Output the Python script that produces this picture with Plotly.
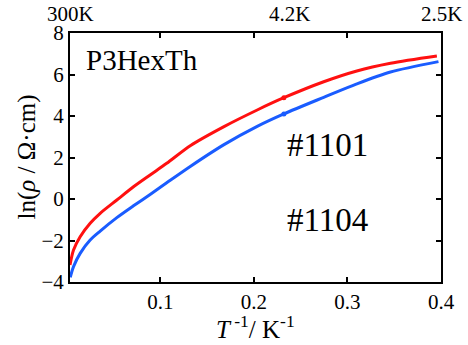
import plotly.graph_objects as go

# Sample #1101 (red)
t_red = [0.00333, 0.0071, 0.0142, 0.0249, 0.0356, 0.0534, 0.0712, 0.089, 0.1067,
         0.1323, 0.168, 0.2035, 0.232, 0.2746, 0.310, 0.346, 0.3956]
ln_red = [-3.18, -2.46, -1.82, -1.17, -0.69, -0.05, 0.59, 1.16, 1.72,
          2.58, 3.49, 4.29, 4.88, 5.65, 6.17, 6.54, 6.89]

# Sample #1104 (blue)
t_blue = [0.0036, 0.0071, 0.0142, 0.0249, 0.0356, 0.0534, 0.0712, 0.089, 0.1067,
          0.1323, 0.168, 0.2035, 0.232, 0.2746, 0.310, 0.346, 0.3973]
ln_blue = [-3.77, -3.26, -2.62, -1.98, -1.55, -0.90, -0.33, 0.22, 0.78,
           1.58, 2.62, 3.50, 4.10, 4.90, 5.55, 6.12, 6.62]

# Top temperature markers
temp_labels = ["300K", "4.2K", "2.5K"]
temp_values = [300.0, 4.2, 2.5]
temp_inv = [1.0 / t for t in temp_values]

# Points at 4.2 K on each curve
dot_x = [0.232, 0.232]
dot_y = [4.88, 4.10]

x_ticks = [0.1, 0.2, 0.3, 0.4]
y_ticks = [-4, -2, 0, 2, 4, 6, 8]

FONT = "Liberation Serif"
RED = "#ff1010"
BLUE = "#1a5cff"

fig = go.Figure()
fig.add_trace(go.Scatter(x=t_red, y=ln_red, mode="lines",
                         line=dict(color=RED, width=3, shape="spline", smoothing=0.8),
                         showlegend=False))
fig.add_trace(go.Scatter(x=t_blue, y=ln_blue, mode="lines",
                         line=dict(color=BLUE, width=3, shape="spline", smoothing=0.8),
                         showlegend=False))
fig.add_trace(go.Scatter(x=dot_x, y=dot_y, mode="markers",
                         marker=dict(color=[RED, BLUE], size=5), showlegend=False))
fig.add_trace(go.Scatter(x=temp_inv, y=[8.14] * 3, mode="markers",
                         marker=dict(symbol="triangle-down", size=8, color="black"),
                         cliponaxis=False, showlegend=False))

for lab, xv in zip(temp_labels, temp_inv):
    fig.add_annotation(x=xv, y=8, xref="x", yref="y", text=lab, showarrow=False,
                       xanchor="center", yanchor="bottom", yshift=5,
                       font=dict(family=FONT, size=21, color="black"))

fig.add_annotation(x=0.194, y=0.892, xref="paper", yref="paper", text="P3HexTh", showarrow=False,
                   xanchor="center", yanchor="middle",
                   font=dict(family=FONT, size=29, color="black"))
fig.add_annotation(x=0.693, y=0.55, xref="paper", yref="paper", text="#1101", showarrow=False,
                   xanchor="center", yanchor="middle",
                   font=dict(family=FONT, size=33, color="black"))
fig.add_annotation(x=0.693, y=0.249, xref="paper", yref="paper", text="#1104", showarrow=False,
                   xanchor="center", yanchor="middle",
                   font=dict(family=FONT, size=33, color="black"))

fig.add_annotation(x=0.5, y=0, xref="paper", yref="paper", xanchor="center", yanchor="middle",
                   yshift=-45, text="<i>T</i><sup> -1</sup>/ K<sup>-1</sup>", showarrow=False,
                   font=dict(family=FONT, size=25, color="black"))
fig.add_annotation(x=0, y=0.5, xref="paper", yref="paper", xanchor="center", yanchor="middle",
                   xshift=-44, text="ln(<i>ρ</i> / Ω·cm)", textangle=-90, showarrow=False,
                   font=dict(family=FONT, size=25, color="black"))

axis_common = dict(showgrid=False, zeroline=False, showline=True, linecolor="black", linewidth=2,
                   mirror="ticks", ticks="inside", ticklen=5, tickwidth=2, tickcolor="black",
                   tickfont=dict(family=FONT, size=21, color="black"))
fig.update_xaxes(range=[1.0 / 300, 0.4], tickvals=x_ticks, ticktext=["0.1", "0.2", "0.3", "0.4"],
                 **axis_common)
fig.update_yaxes(range=[-4, 8], tickvals=y_ticks, **axis_common)

fig.update_layout(width=468, height=345, margin=dict(l=70, r=27, t=33, b=63),
                  plot_bgcolor="white", paper_bgcolor="white", font=dict(family=FONT))

fig.write_html("out.html", config={"displayModeBar": False},
               post_script="document.body.style.margin='0';")
